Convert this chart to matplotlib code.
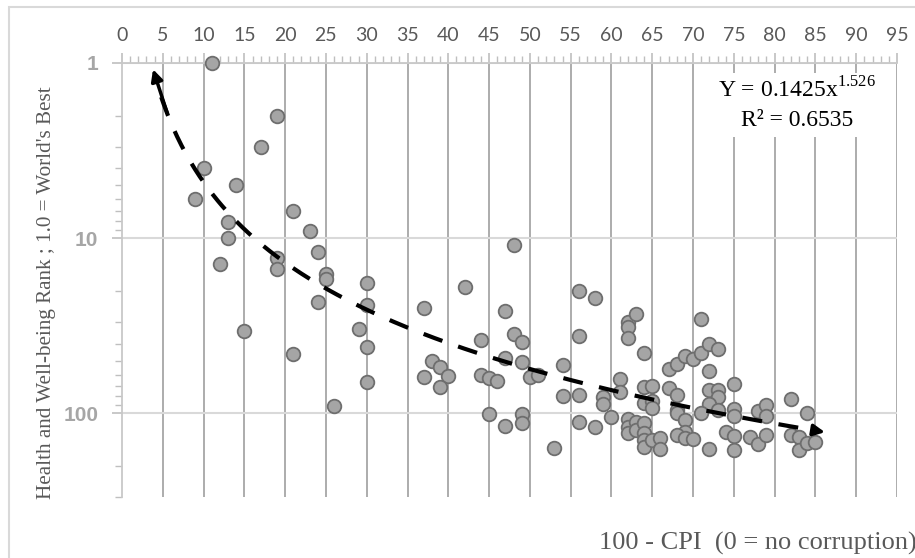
import numpy as np
import matplotlib
matplotlib.use("Agg")
import matplotlib.pyplot as plt
from matplotlib.ticker import MultipleLocator, LogLocator, NullFormatter, FixedLocator
from matplotlib.patches import Rectangle

# 100 - CPI score of each country
cpi_inv = [11, 19, 17, 10, 14, 9, 21, 13, 23, 13, 24, 12, 19, 19, 25, 25, 30, 24, 30, 37,
           15, 29, 30, 21, 38, 39, 40, 37, 39, 30, 26, 42,
           48, 47, 48, 49, 44, 47, 49, 50, 51, 44, 45, 46, 45, 47, 49, 49,
           56, 58, 56, 54, 54, 56, 56, 58, 53, 59, 59, 60, 61, 61, 62, 62, 62, 63, 64,
           62, 62, 62, 63, 63, 64, 64, 64, 64, 65, 66, 66, 64, 65, 64, 65, 65,
           67, 67, 68, 69, 70, 71, 71, 72, 73, 72, 68, 68, 68, 69, 69, 68, 69, 70,
           72, 73, 73, 72, 73, 71, 72, 75, 75, 75, 74, 75, 75, 77, 78, 78, 79, 79, 79,
           82, 84, 82, 83, 83, 84, 85]
# health and well-being rank (1 = best)
health_rank = [1, 2, 3, 4, 5, 6, 7, 8.1, 9.1, 10, 12, 14, 13, 15, 16, 17, 18, 23, 24, 25,
               34, 33, 42, 46, 50, 54, 61, 62, 71, 66, 91, 19,
               11, 26, 35, 39, 38, 48, 51, 62, 60, 60, 63, 65, 101, 118, 101, 113,
               20, 22, 36, 53, 80, 79, 112, 119, 157, 81, 88, 105, 64, 75, 30, 32, 37, 27, 45,
               107, 119, 130, 112, 125, 114, 130, 142, 156, 142, 139, 159, 71, 70, 87, 85, 93,
               56, 72, 52, 47, 49, 29, 45, 40, 43, 57, 79, 95, 100, 109, 127, 132, 138, 140,
               74, 74, 81, 88, 96, 100, 160, 68, 94, 104, 128, 134, 161, 137, 149, 97, 89, 103, 133,
               83, 99, 133, 136, 161, 148, 145]

# power trend from the chart: Y = 0.1425 x^1.526
fit_a = 0.1425
fit_b = 1.526
fit_r2 = 0.6535
fit_range = (3.7, 86.5)

W, H = 915, 558
fig = plt.figure(figsize=(W / 100, H / 100), dpi=100)
ax = fig.add_axes([122 / W, 1 - 497 / H, (897 - 122) / W, (497 - 63) / H])

ax.set_yscale("log")
ax.set_xlim(0, 95)
ax.set_ylim(300, 1)

ax.xaxis.tick_top()
ax.set_xticks(range(0, 100, 5))
ax.xaxis.set_minor_locator(MultipleLocator(1))
ax.yaxis.set_major_locator(FixedLocator([1, 10, 100]))
ax.yaxis.set_minor_locator(LogLocator(base=10, subs=np.arange(2, 10)))
ax.yaxis.set_minor_formatter(NullFormatter())
ax.set_yticklabels(["1", "10", "100"])

ax.tick_params(axis="x", which="major", direction="out", length=7, width=1.2,
               color="#bfbfbf", pad=7, labelsize=14, labelcolor="#595959")
ax.tick_params(axis="x", which="minor", direction="out", length=5, width=1,
               color="#bfbfbf")
ax.tick_params(axis="y", which="major", direction="out", length=7, width=1.2,
               color="#bfbfbf", pad=10, labelsize=15, labelcolor="#a6a6a6")
ax.tick_params(axis="y", which="minor", direction="out", length=5, width=1,
               color="#bfbfbf")
for lab in ax.get_xticklabels():
    lab.set_family("Lato")
for lab in ax.get_yticklabels():
    lab.set_family("Liberation Sans")
    lab.set_weight("bold")

ax.grid(axis="x", which="major", color="#a6a6a6", lw=1.3)
ax.grid(axis="y", which="major", color="#d9d9d9", lw=1.5)
ax.xaxis.get_major_ticks()[0].gridline.set_visible(False)
ax.set_axisbelow(True)

for s in ["right", "bottom"]:
    ax.spines[s].set_visible(False)
ax.spines["left"].set_color("#c8c8c8")
ax.spines["top"].set_color("#c8c8c8")
ax.spines["left"].set_linewidth(1.3)
ax.spines["top"].set_linewidth(1.3)

ax.scatter(cpi_inv, health_rank, s=9.8 ** 2, c="#a5a5a5", edgecolors="#6e6e6e",
           linewidths=1.3, zorder=3, clip_on=False)

# trend line with arrow heads at both ends
tx = np.linspace(fit_range[0], fit_range[1], 300)
ty = fit_a * tx ** fit_b
ax.plot(tx[4:-4], ty[4:-4], color="black", lw=3, dashes=(4.8, 4.0), zorder=4,
        clip_on=False)
arrow = dict(arrowstyle="-|>", color="black", lw=2.5, mutation_scale=17)
ax.annotate("", xy=(tx[0], ty[0]), xytext=(tx[7], ty[7]), arrowprops=arrow,
            annotation_clip=False, zorder=5)
ax.annotate("", xy=(tx[-1], ty[-1]), xytext=(tx[-7], ty[-7]), arrowprops=arrow,
            annotation_clip=False, zorder=5)

# equation box
fig.add_artist(Rectangle((722 / W, 1 - 137 / H), (872 - 722) / W, 64 / H,
                         transform=fig.transFigure, facecolor="white",
                         edgecolor="none", zorder=2))
plt.rcParams["mathtext.fontset"] = "custom"
plt.rcParams["mathtext.rm"] = "Liberation Serif"
fig.text(797 / W, 1 - 90 / H, "Y = %.4fx$^{\\mathrm{%.3f}}$" % (fit_a, fit_b),
         ha="center", va="center", family="Liberation Serif", size=17, zorder=3)
fig.text(797 / W, 1 - 121 / H, "R² = %.4f" % fit_r2,
         ha="center", va="center", family="Liberation Serif", size=17, zorder=3)

fig.text(47 / W, 1 - 293 / H, "Health and Well-being Rank ; 1.0 = World's Best",
         rotation=90, ha="center", va="center", family="Liberation Serif",
         size=15.2, color="#595959")
fig.text(1.002, 1 - 543 / H, "100 - CPI  (0 = no corruption)", ha="right",
         va="center", family="Liberation Serif", size=19, color="#595959")

# chart area border
fig.add_artist(Rectangle((9 / W, -0.5), 2, 1 - 7 / H + 0.5, transform=fig.transFigure,
                         fill=False, edgecolor="#d9d9d9", lw=1.5))

fig.savefig("out.png", dpi=100)
